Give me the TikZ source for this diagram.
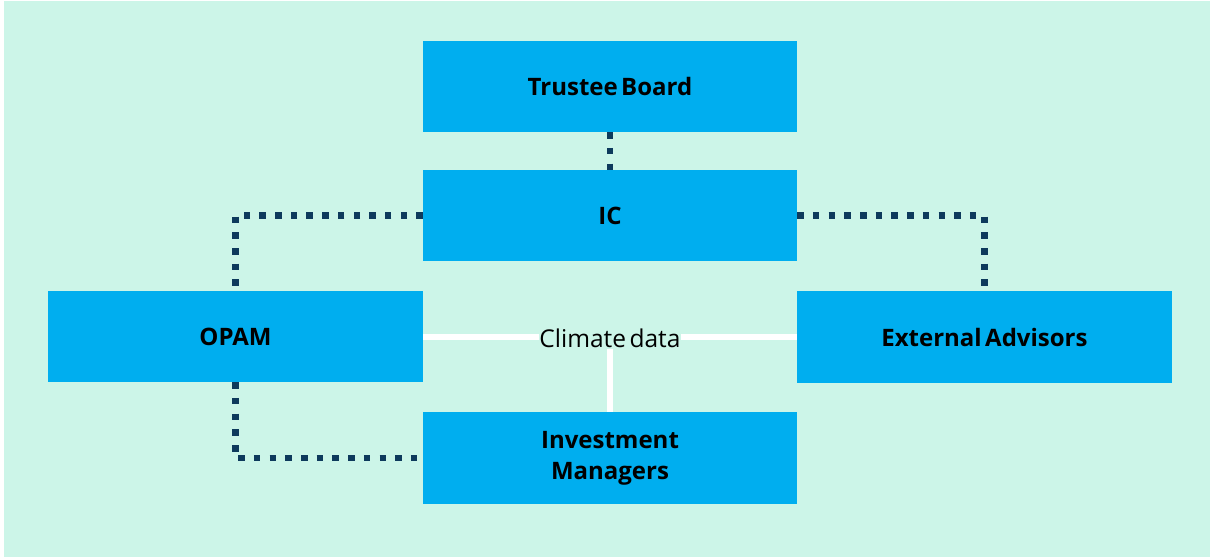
\documentclass[tikz,border=0pt]{standalone}
\usepackage{fontspec}
\setmainfont[WordSpace=0.55]{Open Sans}
\definecolor{mint}{HTML}{CCF5E8}
\definecolor{boxblue}{HTML}{00AEEF}
\definecolor{navy}{HTML}{0D3A5C}
\begin{document}
\begin{tikzpicture}[x=1pt,y=-1pt,
  unit/.style={rectangle, fill=boxblue, draw=none, minimum width=374pt,
    minimum height=91pt, align=center, font=\fontsize{24}{31}\selectfont\bfseries,
    text=black},
  reports/.style={draw=navy, line width=6.5pt, dash pattern=on 6.5pt off 9.2pt},
  dataflow/.style={draw=white, line width=6pt},
  datalabel/.style={fill=mint, inner xsep=0pt, inner ysep=1pt,
    font=\fontsize{24.5}{28}\selectfont, text=black}]
  \useasboundingbox (0,0) rectangle (1210,557);
  \fill[white] (0,0) rectangle (1210,557);
  \fill[mint] (4,1) rectangle (1210,557);

  % governance units
  \node[unit] (tb)   at (610,86.5)  {Trustee Board};
  \node[unit] (ic)   at (610,215.5) {IC};
  \node[unit, minimum width=375pt] (opam) at (235.5,336.5) {OPAM};
  \node[unit, minimum width=375pt, minimum height=92pt] (ext) at (984.5,337) {External Advisors};
  \node[unit, minimum height=92pt] (im) at (610,458) {Investment\\Managers};

  % reporting lines
  \draw[reports] (tb.south) -- (ic.north);
  \draw[reports] (ic.west) -| (opam.north);
  \draw[reports] (ic.east) -| (ext.north);
  \draw[reports] (opam.south) |- (im.west);

  % climate data flow
  \draw[dataflow] (opam.east |- 0,337) -- (ext.west |- 0,337);
  \node[datalabel] (cd) at (610,338) {Climate data};
  \draw[dataflow] (cd.south) -- (im.north);
\end{tikzpicture}
\end{document}
